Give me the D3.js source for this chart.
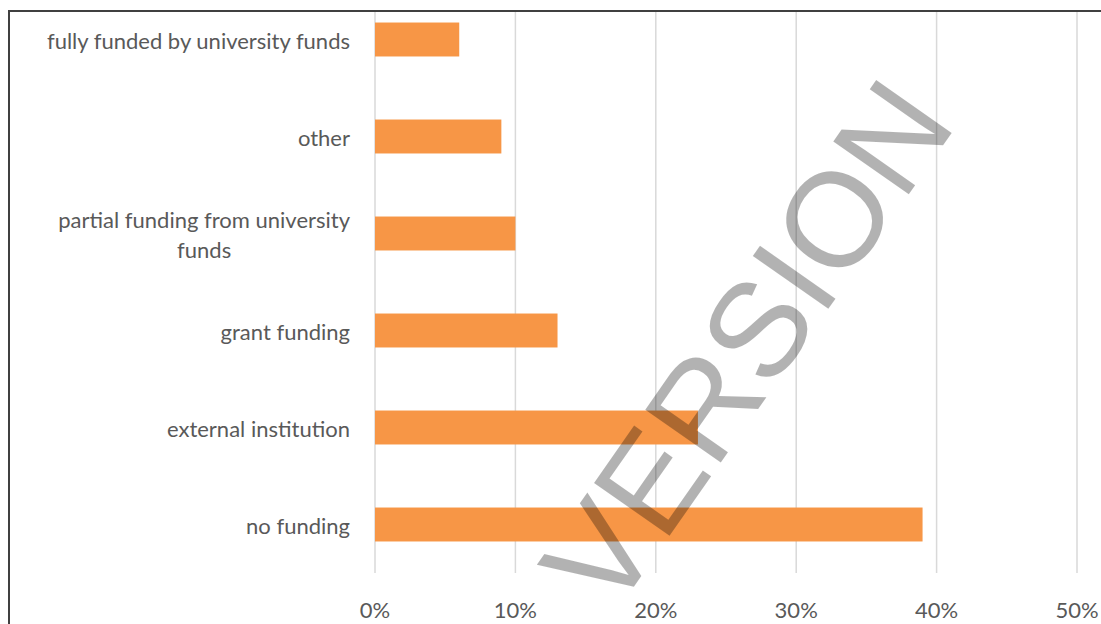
<!DOCTYPE html>
<html>
<head>
<meta charset="utf-8">
<script src="https://cdn.jsdelivr.net/npm/d3@7"></script>
<style>
  html, body { margin: 0; padding: 0; background: #ffffff; }
  svg { display: block; }
</style>
</head>
<body>
<div id="chart"></div>
<script>
// ---- data (top-to-bottom order as shown) ----
const categories = [
  "fully funded by university funds",
  "other",
  "partial funding from university funds",
  "grant funding",
  "external institution",
  "no funding"
];
const values = [6, 9, 10, 13, 23, 39];           // percent
const tickValues = [0, 10, 20, 30, 40, 50];
const tickLabels = ["0%", "10%", "20%", "30%", "40%", "50%"];
const watermarkText = "VERSION";

// ---- layout ----
const W = 1101, H = 624;
const svg = d3.select("#chart").append("svg").attr("width", W).attr("height", H);

const x = d3.scaleLinear().domain([0, 50]).range([375, 1077]);
const y = d3.scaleBand().domain(categories).range([-9, 573])
  .paddingInner(0.65).paddingOuter(0.325);

const FONT = "Lato, 'Open Sans', sans-serif";
const TXT = "#595959";
const FS = 22;

// gridlines
svg.append("g").selectAll("line").data(tickValues).join("line")
  .attr("x1", d => x(d)).attr("x2", d => x(d))
  .attr("y1", 12).attr("y2", 573)
  .attr("stroke", "#d9d9d9").attr("stroke-width", 1.5);

// bars
svg.append("g").selectAll("rect").data(values).join("rect")
  .attr("x", x(0))
  .attr("y", (d, i) => y(categories[i]))
  .attr("width", d => x(d) - x(0))
  .attr("height", y.bandwidth())
  .attr("fill", "#F79646");

// x tick labels
svg.append("g").selectAll("text").data(tickValues).join("text")
  .attr("x", d => x(d)).attr("y", 618)
  .attr("text-anchor", "middle")
  .attr("font-family", FONT).attr("font-size", FS).attr("fill", TXT)
  .text((d, i) => tickLabels[i]);

// category labels (wrapped, centered within a right-aligned block)
const labelRight = 350, maxW = 318, lineH = 30;
const lg = svg.append("g");
categories.forEach(cat => {
  const cy = y(cat) + y.bandwidth() / 2;
  const t = lg.append("text").attr("font-family", FONT).attr("font-size", FS).attr("fill", TXT);
  const words = cat.split(" ");
  const lines = [];
  let cur = [];
  const probe = t.append("tspan");
  words.forEach(w => {
    const test = cur.concat([w]).join(" ");
    probe.text(test);
    if (probe.node().getComputedTextLength() > maxW && cur.length) {
      lines.push(cur.join(" "));
      cur = [w];
    } else cur.push(w);
  });
  lines.push(cur.join(" "));
  probe.remove();
  const widths = lines.map(l => { const p = t.append("tspan").text(l); const w = p.node().getComputedTextLength(); p.remove(); return w; });
  const blockW = d3.max(widths);
  const cx = labelRight - blockW / 2;
  const y0 = cy + 2 - (lines.length - 1) * lineH / 2;
  lines.forEach((l, i) => {
    t.append("tspan").attr("x", cx).attr("y", y0 + i * lineH)
      .attr("text-anchor", "middle").attr("dy", "0.35em").text(l);
  });
});

// chart border (top and left visible)
svg.append("line").attr("x1", 8).attr("x2", W).attr("y1", 11).attr("y2", 11)
  .attr("stroke", "#404040").attr("stroke-width", 2);
svg.append("line").attr("x1", 9).attr("x2", 9).attr("y1", 10).attr("y2", H)
  .attr("stroke", "#404040").attr("stroke-width", 2);

// watermark
svg.append("text")
  .attr("transform", "translate(612,618) rotate(-55)")
  .attr("font-family", "'Liberation Sans', Arial, sans-serif")
  .attr("font-size", 134)
  .attr("fill", "#000").attr("fill-opacity", 0.3)
  .text(watermarkText);
</script>
</body>
</html>
